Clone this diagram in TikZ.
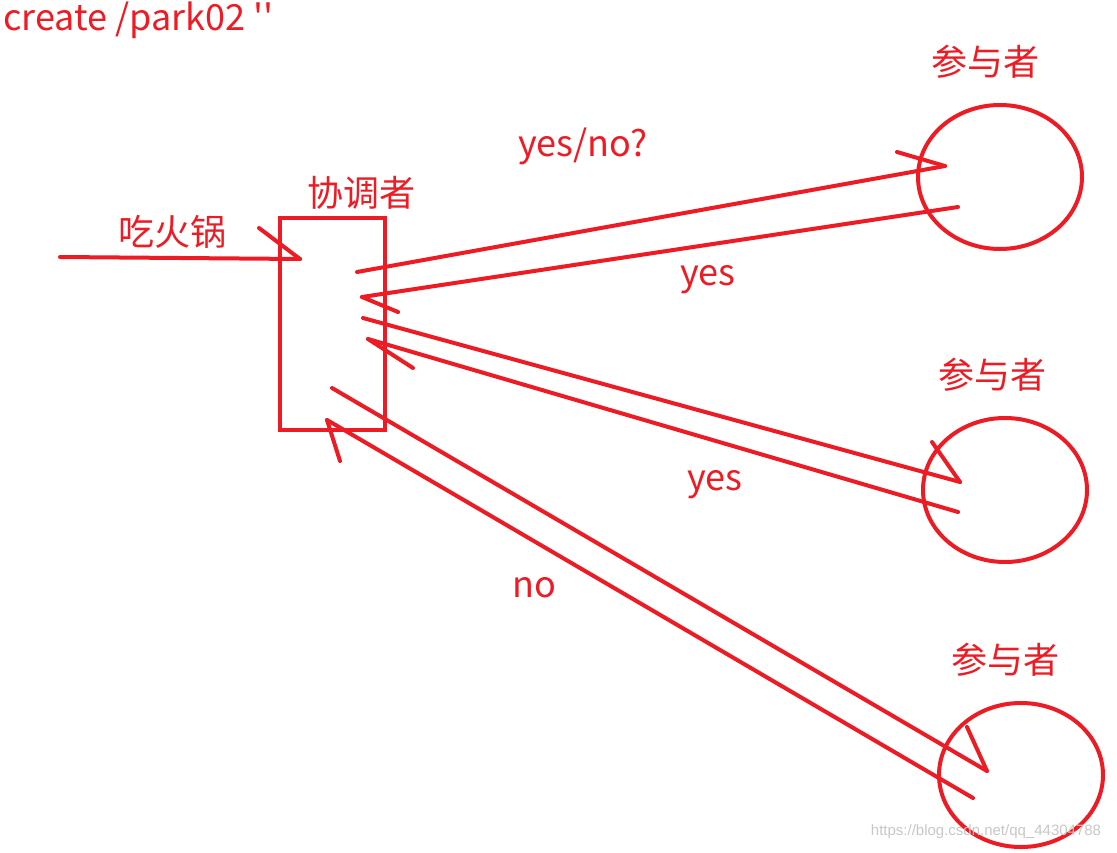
\documentclass[tikz,border=0pt]{standalone}
\usepackage{fontspec}
\setmainfont{Noto Sans CJK SC}
\newfontfamily\rawfont[Ligatures=ResetAll]{Noto Sans CJK SC}
\newfontfamily\markfont{Liberation Sans}
\usetikzlibrary{calc}
\usetikzlibrary{shapes.geometric}
\definecolor{paintred}{RGB}{237,28,36}

\begin{document}
\begin{tikzpicture}[x=1pt,y=-1pt,
                        stroke/.style={line width=4,paintred,line cap=round},
                        party/.style={stroke,draw,ellipse,minimum width=164,minimum height=144},
                        lbl/.style={text=paintred,font=\fontsize{36}{42}\selectfont,inner sep=0}
                        ]
                        \useasboundingbox (0,0) rectangle (1117,852);
                        \node[lbl,anchor=west] (cmd) at (3,20) {create /park02 {\rawfont ''}};

                        % coordinator box and the three participants
                        \node[stroke,draw,minimum width=105,minimum height=212,inner sep=0] (coord) at (332,324) {};
                        \node[lbl] (coordname) at (361,193) {协调者};
                        \node[party] (p1) at (1000,177) {};
                        \node[party] (p2) at (1005,490) {};
                        \node[party] (p3) at (1021,775) {};
                        \node[lbl] (p1name) at (985,62) {参与者};
                        \node[lbl] (p2name) at (992,375) {参与者};
                        \node[lbl] (p3name) at (1005,660) {参与者};

                        % request coming in
                        \coordinate (start) at (60,257);
                        \coordinate (e0) at (300,259);
                        \draw[stroke] (start) -- (e0);
                        \draw[stroke] (e0) -- ++(-41,-31);
                        \node[lbl] (food) at (172,232) {吃火锅};

                        % first participant
                        \coordinate (a1) at (357,272);
                        \coordinate (b1) at (945,166);
                        \draw[stroke] (a1) -- (b1);
                        \draw[stroke] (b1) -- ++(-48,-14);
                        \coordinate (r1) at (958,207);
                        \coordinate (e1) at (362,297);
                        \draw[stroke] (r1) -- (e1);
                        \draw[stroke] (e1) -- ++(36,15);
                        \node[lbl] (ask) at (583,146) {yes/no?};
                        \node[lbl] (ans1) at (708,280) {yes};

                        % second participant
                        \coordinate (a2) at (363,318);
                        \coordinate (b2) at (960,482);
                        \draw[stroke] (a2) -- (b2);
                        \draw[stroke] (b2) -- ++(-28,-40);
                        \coordinate (r2) at (958,512);
                        \coordinate (e2) at (368,339);
                        \draw[stroke] (r2) -- (e2);
                        \draw[stroke] (e2) -- ++(45,29);
                        \node[lbl] (ans2) at (715,485) {yes};

                        % third participant
                        \coordinate (a3) at (332,388);
                        \coordinate (b3) at (987,771);
                        \draw[stroke] (a3) -- (b3);
                        \draw[stroke] (b3) -- ++(-20,-44);
                        \coordinate (r3) at (973,798);
                        \coordinate (e3) at (327,420);
                        \draw[stroke] (r3) -- (e3);
                        \draw[stroke] (e3) -- ++(13,41);
                        \node[lbl] (ans3) at (534,588) {no};

                        \node[text=black!22,font=\markfont\fontsize{15}{18}\selectfont,inner sep=0] (mark) at (986,832) {https://blog.csdn.net/qq\_44304788};
                \end{tikzpicture}
\end{document}
